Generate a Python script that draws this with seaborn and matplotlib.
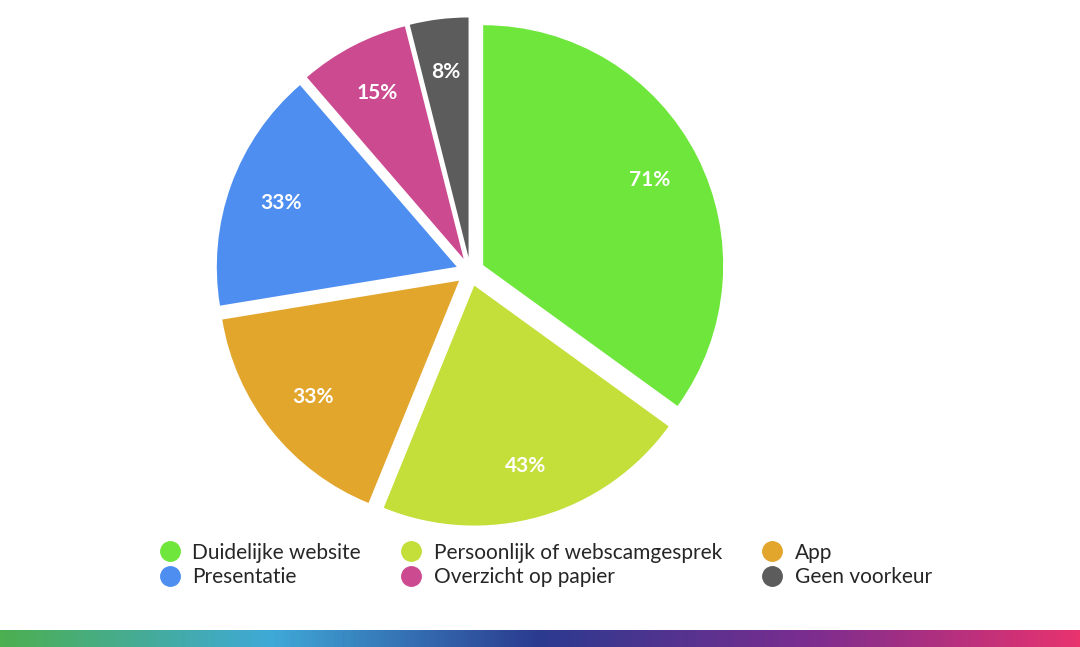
import matplotlib
matplotlib.use("Agg")
import matplotlib.pyplot as plt
import seaborn as sns
import numpy as np
from matplotlib.lines import Line2D
from matplotlib.colors import LinearSegmentedColormap

categories = ["Duidelijke website", "Persoonlijk of webscamgesprek", "App",
              "Presentatie", "Overzicht op papier", "Geen voorkeur"]
values = [71, 43, 33, 33, 15, 8]
labels = ["71%", "43%", "33%", "33%", "15%", "8%"]
colors = ["#6fe63c", "#c4de3a", "#e2a62c", "#4d8ef0", "#cc4a8f", "#5c5c5c"]

sns.set_theme(style="white")
plt.rcParams['font.family'] = ['Lato', 'DejaVu Sans']

fig = plt.figure(figsize=(10.8, 6.47), dpi=100)
ax = fig.add_axes([0.191, 0.172, 0.489, 0.816])
wedges, texts = ax.pie(values, colors=colors, startangle=90, counterclock=False,
                       explode=[0.06] * 6,
                       wedgeprops=dict(linewidth=0))
for w, lab in zip(wedges, labels):
    ang = np.deg2rad((w.theta1 + w.theta2) / 2)
    r = 0.78
    cx, cy = w.center
    ax.text(cx + r * np.cos(ang), cy + r * np.sin(ang), lab, ha="center", va="center",
            color="white", fontsize=15, fontweight="bold")
ax.set_xlim(-1.1, 1.1)
ax.set_ylim(-1.1, 1.1)
ax.set_aspect("equal")
ax.axis("off")

handles = [Line2D([0], [0], marker="o", linestyle="", markersize=14,
                  markerfacecolor=c, markeredgecolor=c) for c in colors]
order = [0, 3, 1, 4, 2, 5]
fig.legend([handles[i] for i in order], [categories[i] for i in order],
           loc="lower left", bbox_to_anchor=(0.13, 0.08), ncol=3, frameon=False,
           fontsize=15, handletextpad=0.1, columnspacing=1.4, labelspacing=0.2,
           borderaxespad=0)

gax = fig.add_axes([0, 0, 1, 0.026])
cmap = LinearSegmentedColormap.from_list("g", ["#4caf50", "#3fa9d8", "#2b3a8f", "#7b2d8f", "#e8336f"])
gax.imshow(np.linspace(0, 1, 256)[None, :], aspect="auto", cmap=cmap)
gax.axis("off")

fig.savefig("out.png", dpi=100, facecolor="white")
